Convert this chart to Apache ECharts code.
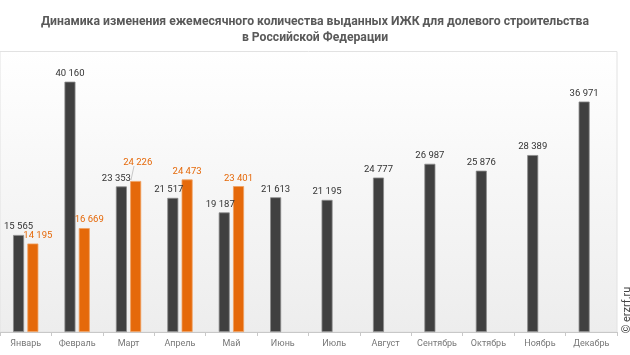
<!DOCTYPE html>
<html>
<head>
<meta charset="utf-8">
<script src="https://cdn.jsdelivr.net/npm/echarts@6/dist/echarts.min.js"></script>
<style>html,body{margin:0;padding:0;background:#fff;}#c{width:630px;height:355px;}</style>
</head>
<body>
<div id="c"></div>
<script>
const months = ['Январь','Февраль','Март','Апрель','Май','Июнь','Июль','Август','Сентябрь','Октябрь','Ноябрь','Декабрь'];
const series2018 = [15565, 40160, 23353, 21517, 19187, 21613, 21195, 24777, 26987, 25876, 28389, 36971];
const series2019 = [14195, 16669, 24226, 24473, 23401, null, null, null, null, null, null, null];
const titleText = 'Динамика изменения ежемесячного количества выданных ИЖК для долевого строительства\nв Российской Федерации';

const darkOffsets = {0:[0,0],1:[0,0],2:[-5,0],3:[-4,0],4:[-4,0]};
const orangeOffsets = {0:[5,0],1:[5,0],2:[2,-10],3:[0,0],4:[0,0]};

function fmt(v){ return String(v).replace(/\B(?=(\d{3})+(?!\d))/g,' '); }

const chart = echarts.init(document.getElementById('c'), null, {renderer:'canvas'});
chart.setOption({
  animation:false,
  backgroundColor:'#fff',
  title:{
    text:titleText, left:'center', top:9,
    textStyle:{fontFamily:'Roboto', fontWeight:'bold', fontSize:12.2, color:'#595959', lineHeight:16}
  },
  grid:{
    left:0, right:13, top:51.5, bottom:23, show:true,
    borderColor:'#e2e2e2', borderWidth:1,
    backgroundColor:{type:'linear',x:0,y:0,x2:0,y2:1,colorStops:[{offset:0,color:'#ffffff'},{offset:1,color:'#ededed'}]}
  },
  xAxis:{
    type:'category', data:months,
    axisLine:{lineStyle:{color:'#c8c8c8'}},
    axisTick:{show:true, length:4, lineStyle:{color:'#c8c8c8'}},
    axisLabel:{fontFamily:'Roboto', fontSize:9, color:'#777', margin:7, interval:0}
  },
  yAxis:{type:'value', min:0, max:45000, show:false, splitLine:{show:false}},
  series:[
    {
      type:'bar', data:series2018.map((v,i)=>({value:v, label:{offset:darkOffsets[i]||[0,0]}})),
      barWidth:11, barGap:'30%',
      itemStyle:{color:'#404040', borderColor:'#8a8a8a', borderWidth:0.8},
      label:{show:true, position:'top', distance:3, fontFamily:'Roboto', fontSize:9.5, color:'#333', formatter:p=>fmt(p.value)}
    },
    {
      type:'bar', data:series2019.map((v,i)=>v===null?null:({value:v, label:{offset:orangeOffsets[i]||[0,0]}})),
      barWidth:11,
      itemStyle:{color:'#E5690A', borderColor:'#f0a060', borderWidth:0.8},
      label:{show:true, position:'top', distance:3, fontFamily:'Roboto', fontSize:9.5, color:'#E5690A', formatter:p=>fmt(p.value)}
    }
  ],
  graphic:[
    {type:'text', x:627, y:310, rotation:Math.PI/2,
     style:{text:'© erzrf.ru', fill:'#444', font:'11px Roboto', textAlign:'center', textVerticalAlign:'middle'}},
    {type:'line', shape:{x1:134, y1:166, x2:131, y2:180}, style:{stroke:'#bbb', lineWidth:0.8}}
  ]
});
</script>
</body>
</html>
